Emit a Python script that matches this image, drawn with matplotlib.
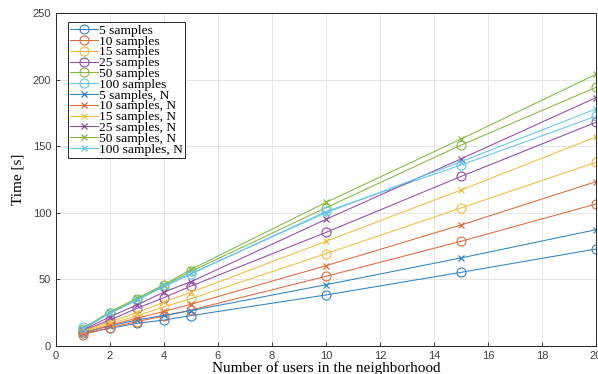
import matplotlib
matplotlib.use("Agg")
import matplotlib.pyplot as plt

# number of users
users = [1, 2, 3, 4, 5, 10, 15, 20]

# time [s]
t5 = [9.5, 13.2, 17.0, 19.5, 22.8, 38.3, 55.3, 72.8]
t10 = [8.5, 13.8, 18.3, 22.5, 27.0, 52.3, 78.6, 106.6]
t15 = [10.5, 17.0, 22.5, 29.5, 35.5, 69.3, 103.6, 138.0]
t25 = [11.5, 19.5, 28.3, 36.3, 45.0, 85.3, 127.3, 168.0]
t50 = [12.5, 25.0, 35.0, 45.5, 56.0, 103.8, 150.8, 194.2]
t100 = [14.0, 24.5, 34.5, 44.5, 54.0, 101.0, 135.9, 172.5]

t5_n = [10.0, 15.0, 19.5, 23.0, 26.5, 46.0, 66.1, 87.3]
t10_n = [9.5, 15.8, 20.8, 26.0, 31.3, 60.3, 90.8, 123.4]
t15_n = [11.0, 18.3, 25.0, 33.0, 40.3, 78.6, 117.1, 157.0]
t25_n = [12.0, 22.0, 30.8, 40.5, 48.3, 95.1, 140.5, 186.5]
t50_n = [13.0, 25.8, 35.8, 46.0, 57.5, 107.8, 155.4, 204.0]
t100_n = [13.0, 24.5, 34.5, 45.0, 54.5, 100.0, 138.4, 178.0]

labels = ['5 samples', '10 samples', '15 samples', '25 samples',
          '50 samples', '100 samples']

# matlab colour order, a bit lighter like in the export
colors = ['#2f82c8', '#e2693a', '#f0bc3c', '#9449a4', '#86b83e', '#62c6f0']

fig = plt.figure(figsize=(5.98, 3.74), dpi=100)
ax = fig.add_axes([0.0936, 0.0749, 0.9031, 0.8903])

series_o = [t5, t10, t15, t25, t50, t100]
series_x = [t5_n, t10_n, t15_n, t25_n, t50_n, t100_n]

for ys, c, lab in zip(series_o, colors, labels):
    ax.plot(users, ys, color=c, lw=0.75, marker='o', ms=6.5,
            mfc='none', mew=0.8, label=lab)
for ys, c, lab in zip(series_x, colors, labels):
    ax.plot(users, ys, color=c, lw=0.75, marker='x', ms=4.5,
            mew=0.9, label=lab + ', N')

ax.set_xlim(0, 20)
ax.set_ylim(0, 250)
ax.set_xticks(range(0, 21, 2))
ax.set_yticks(range(0, 251, 50))
ax.grid(True, color='#e3e3e3', lw=0.6)
ax.set_axisbelow(True)
ax.tick_params(direction='in', length=3, width=0.6, colors='#262626',
               labelsize=8, labelcolor='#404040')
for lbl in ax.get_xticklabels() + ax.get_yticklabels():
    lbl.set_family('Liberation Sans')
for s in ax.spines.values():
    s.set_color('#262626')
    s.set_linewidth(0.7)

ax.set_xlabel('Number of users in the neighborhood', family='Liberation Serif',
              fontsize=11, labelpad=0)
ax.set_ylabel('Time [s]', family='Liberation Serif', fontsize=11, labelpad=6)

leg = ax.legend(loc='upper left', bbox_to_anchor=(0.022, 0.972),
                prop={'family': 'Liberation Serif', 'size': 9.7},
                labelspacing=-0.12, handlelength=2.1, handletextpad=0.05,
                borderpad=0.15, borderaxespad=0, fancybox=False, framealpha=1)
leg.get_frame().set_edgecolor('#262626')
leg.get_frame().set_linewidth(0.7)

fig.savefig('out.png', dpi=100)
